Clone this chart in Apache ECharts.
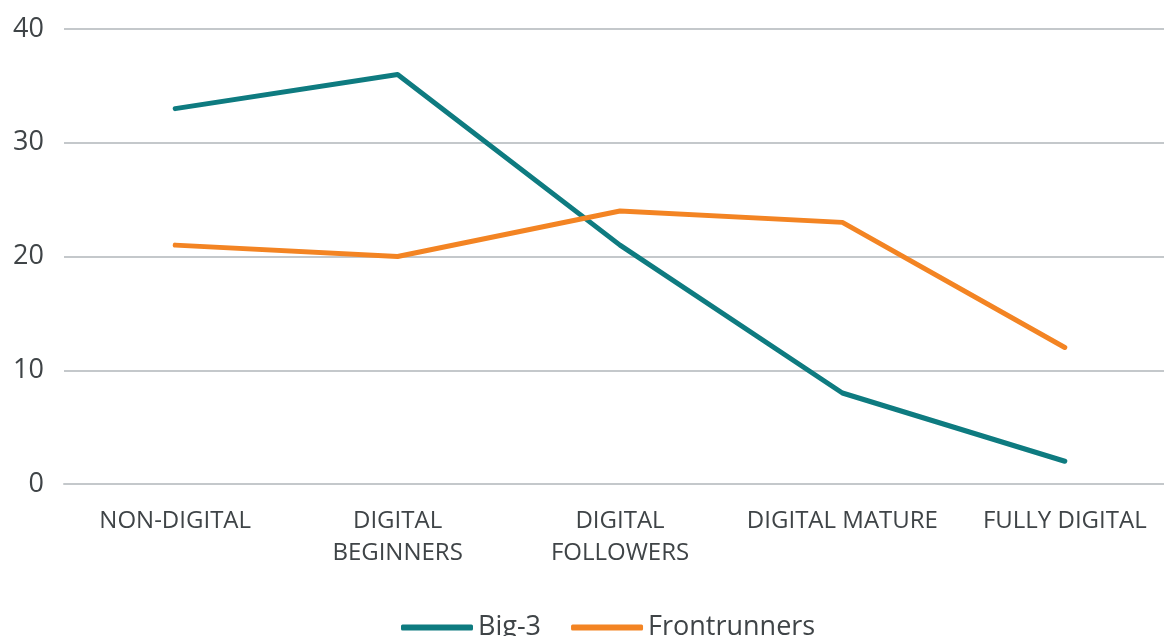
<!DOCTYPE html>
<html>
<head>
    <meta charset="utf-8">
    <title>Big-3 vs Frontrunners</title>
    <script src="https://cdn.jsdelivr.net/npm/echarts@6/dist/echarts.min.js"></script>
    <style>
        html, body { margin: 0; padding: 0; background: #fff; overflow: hidden; }
    </style>
</head>
<body>
    <!-- chart is a bit wider than the window: the last category runs off the right edge -->
    <div id="main" style="width: 1176px;height:636px;"></div>
    <script type="text/javascript">
        var categories = ['NON-DIGITAL', 'DIGITAL\nBEGINNERS', 'DIGITAL\nFOLLOWERS', 'DIGITAL MATURE', 'FULLY DIGITAL'];
        var big3 = [33, 36, 21, 8, 2];
        var frontrunners = [21, 20, 24, 23, 12];
        var seriesNames = ['Big-3', 'Frontrunners'];

        var textColor = '#3f4447';
        var font = '"Open Sans", "Noto Sans", sans-serif';

        var myChart = echarts.init(document.getElementById('main'));

        var option = {
            animation: false,
            textStyle: { fontFamily: font },
            grid: {
                left: 64,
                right: 0,
                top: 29,
                bottom: 152
            },
            legend: {
                bottom: -10,
                left: 396,
                itemWidth: 72,
                itemHeight: 6,
                itemGap: 30,
                icon: 'roundRect',
                textStyle: { fontSize: 27, color: textColor, fontFamily: font },
                data: seriesNames
            },
            xAxis: {
                type: 'category',
                data: categories,
                axisTick: { show: false },
                axisLine: { lineStyle: { color: '#c4c8cb', width: 2 } },
                axisLabel: {
                    color: textColor,
                    fontSize: 24,
                    lineHeight: 32,
                    margin: 21,
                    interval: 0
                }
            },
            yAxis: {
                type: 'value',
                min: 0,
                max: 40,
                interval: 10,
                axisLine: { show: false },
                axisTick: { show: false },
                axisLabel: { color: textColor, fontSize: 27, margin: 20 },
                splitLine: { lineStyle: { color: '#c4c8cb', width: 2 } }
            },
            series: [{
                name: seriesNames[0],
                type: 'line',
                data: big3,
                symbol: 'none',
                color: '#0e7b80',
                lineStyle: { width: 5, cap: 'round', join: 'round' }
            }, {
                name: seriesNames[1],
                type: 'line',
                data: frontrunners,
                symbol: 'none',
                color: '#f38423',
                lineStyle: { width: 5, cap: 'round', join: 'round' }
            }]
        };

        myChart.setOption(option);
    </script>
</body>
</html>
